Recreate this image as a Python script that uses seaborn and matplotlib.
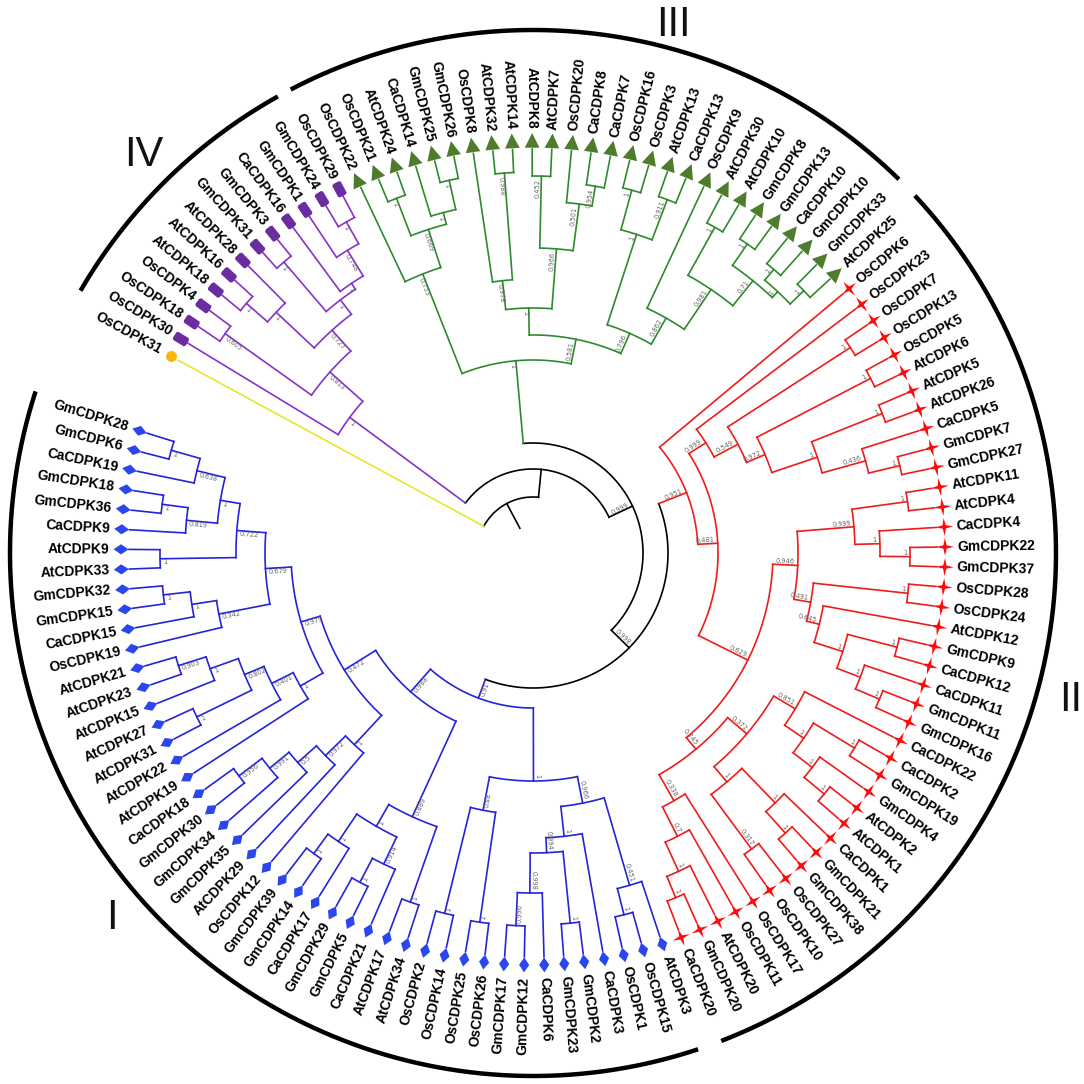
import numpy as np
import matplotlib
matplotlib.use("Agg")
import matplotlib.pyplot as plt
import seaborn as sns
import pandas as pd
from matplotlib.collections import LineCollection
from matplotlib.path import Path

# ---- leaf order, clockwise starting from the lone OsCDPK31 ----
yellow_leaves = ["OsCDPK31"]
purple_leaves = ["OsCDPK30", "OsCDPK18", "OsCDPK4", "AtCDPK18", "AtCDPK16", "AtCDPK28",
                 "GmCDPK31", "GmCDPK3", "CaCDPK16", "GmCDPK1", "GmCDPK24", "OsCDPK29"]
green_leaves = ["OsCDPK22", "OsCDPK21", "AtCDPK24", "CaCDPK14", "GmCDPK25", "GmCDPK26",
                "OsCDPK8", "AtCDPK32", "AtCDPK14", "AtCDPK8", "AtCDPK7", "OsCDPK20",
                "CaCDPK8", "CaCDPK7", "OsCDPK16", "OsCDPK3", "AtCDPK13", "CaCDPK13",
                "OsCDPK9", "AtCDPK30", "AtCDPK10", "GmCDPK8", "GmCDPK13", "CaCDPK10",
                "GmCDPK10", "GmCDPK33", "AtCDPK25"]
red_leaves = ["OsCDPK6", "OsCDPK23", "OsCDPK7", "OsCDPK13", "OsCDPK5", "AtCDPK6", "AtCDPK5",
              "AtCDPK26", "CaCDPK5", "GmCDPK7", "GmCDPK27", "AtCDPK11", "AtCDPK4", "CaCDPK4",
              "GmCDPK22", "GmCDPK37", "OsCDPK28", "OsCDPK24", "AtCDPK12", "GmCDPK9",
              "CaCDPK12", "CaCDPK11", "GmCDPK11", "GmCDPK16", "CaCDPK22", "CaCDPK2",
              "GmCDPK19", "GmCDPK4", "AtCDPK2", "AtCDPK1", "CaCDPK1", "GmCDPK21", "GmCDPK38",
              "OsCDPK27", "OsCDPK10", "OsCDPK17", "OsCDPK11", "AtCDPK20", "GmCDPK20", "CaCDPK20"]
blue_leaves = ["AtCDPK3", "OsCDPK15", "OsCDPK1", "CaCDPK3", "GmCDPK2", "GmCDPK23", "CaCDPK6",
               "GmCDPK12", "GmCDPK17", "OsCDPK26", "OsCDPK25", "OsCDPK14", "OsCDPK2",
               "AtCDPK34", "AtCDPK17", "CaCDPK21", "GmCDPK5", "GmCDPK29", "CaCDPK17",
               "GmCDPK14", "GmCDPK39", "OsCDPK12", "AtCDPK29", "GmCDPK35", "GmCDPK34",
               "GmCDPK30", "CaCDPK18", "AtCDPK19", "AtCDPK22", "AtCDPK31", "AtCDPK27",
               "AtCDPK15", "AtCDPK23", "AtCDPK21", "OsCDPK19", "CaCDPK15", "GmCDPK15",
               "GmCDPK32", "AtCDPK33", "AtCDPK9", "CaCDPK9", "GmCDPK36", "GmCDPK18",
               "CaCDPK19", "GmCDPK6", "GmCDPK28"]

# ---- topologies: internal node = (...)support:radius ----
purple_tree = ("(OsCDPK30,((OsCDPK18,OsCDPK4)0.605:378,(((AtCDPK18,AtCDPK16)1:380,AtCDPK28)1:352,"
               "((GmCDPK31,GmCDPK3)1:383,(CaCDPK16,(GmCDPK1,(GmCDPK24,OsCDPK29)1:380)0.748:355)1:325)1:318)"
               "0.727:300)0.813:272)1:228")

green_tree = ("((OsCDPK22,((OsCDPK21,AtCDPK24)1:380,(CaCDPK14,(GmCDPK25,GmCDPK26)1:382)1:352)0.669:340)0.753:300,"
              "(((OsCDPK8,(AtCDPK32,AtCDPK14)0.988:381)0.978:274,((AtCDPK8,AtCDPK7)0.452:377,"
              "(OsCDPK20,(CaCDPK8,CaCDPK7)0.954:372)0.501:352)0.966:305)1:245,"
              "(((OsCDPK16,OsCDPK3)1:376,(AtCDPK13,CaCDPK13)0.911:378)1:335,"
              "(OsCDPK9,((AtCDPK30,AtCDPK10)1:373,((GmCDPK8,GmCDPK13)1:376,((CaCDPK10,GmCDPK10)1:372,"
              "(GmCDPK33,AtCDPK25)1:377)1:358)0.71:350)0.981:318)0.862:270)0.796:240)0.581:218)1:193")

red_u2 = ("((OsCDPK7,OsCDPK13)1:378,((OsCDPK5,AtCDPK6)1:380,((AtCDPK5,AtCDPK26)1:376,"
          "(CaCDPK5,(GmCDPK7,GmCDPK27)1:377)0.436:345)1:300)0.972:252)0.549:232")
red_b1 = "((AtCDPK11,AtCDPK4)1:378,(CaCDPK4,(GmCDPK22,GmCDPK37)1:377)1:347)0.999:322"
red_b2 = ("((OsCDPK28,OsCDPK24)1:377,(AtCDPK12,((GmCDPK9,CaCDPK12)1:376,"
          "(CaCDPK11,(GmCDPK11,GmCDPK16)1:376)1:350)1:325)0.645:295)0.491:282")
red_c3 = "(CaCDPK22,((CaCDPK2,GmCDPK19)1:376,(GmCDPK4,(AtCDPK2,AtCDPK1)1:378)1:352)1:328)0.851:305"
red_d3 = "((CaCDPK1,(GmCDPK21,GmCDPK38)1:377)1:348,(OsCDPK27,OsCDPK10)0.317:368)1:300"
red_e3 = "(OsCDPK17,(OsCDPK11,(AtCDPK20,(GmCDPK20,CaCDPK20)1:373)1:350)0.7:318)0.338:285"
red_tree = ("(OsCDPK6,((OsCDPK23," + red_u2 + ")0.999:205,((" + red_b1 + "," + red_b2 + ")0.946:265,(("
            + red_c3 + "," + red_d3 + ")0.372:280," + red_e3 + ")0.745:255)0.629:240)0.481:185)0.951:165")

blue_ra = "(AtCDPK3,(OsCDPK15,OsCDPK1)1:373)0.451:346"
blue_rb = "(CaCDPK3,((GmCDPK2,GmCDPK23)1:372,(CaCDPK6,(GmCDPK12,GmCDPK17)0.996:373)0.998:340)0.994:300)1:285"
blue_rc = "((OsCDPK26,OsCDPK25)1:373,(OsCDPK14,OsCDPK2)1:371)0.88:262"
blue_l1 = ("((AtCDPK34,AtCDPK17)1:370,((CaCDPK21,(GmCDPK5,GmCDPK29)1:372)0.914:345,"
           "(CaCDPK17,(GmCDPK14,GmCDPK39)1:372)1:348)1:315)0.889:290")
blue_l2 = "(OsCDPK12,(AtCDPK29,(GmCDPK35,(GmCDPK34,(GmCDPK30,CaCDPK18)0.956:369)0.991:340)0.5:315)0.972:290)1:262"
blue_l3 = ("(AtCDPK19,(AtCDPK22,((AtCDPK31,AtCDPK27)1:374,(AtCDPK15,(AtCDPK23,AtCDPK21)0.903:372)1:343)"
           "0.802:313)0.401:292)1:268")
blue_l4 = ("((OsCDPK19,(CaCDPK15,(GmCDPK15,GmCDPK32)1:372)1:345)0.342:320,((AtCDPK33,AtCDPK9)1:373,"
           "((CaCDPK9,(GmCDPK36,GmCDPK18)1:374)0.819:348,(CaCDPK19,(GmCDPK6,GmCDPK28)1:376)0.638:346)1:317)"
           "0.722:297)0.679:268")
blue_tree = ("(((" + blue_ra + "," + blue_rb + ")0.966:255," + blue_rc + ")1:228,(" + blue_l1 + ",(" + blue_l2
             + ",(" + blue_l3 + "," + blue_l4 + ")0.979:242)0.472:222)0.988:185)0.91:155")

# backbone (black) nodes N0..N3, radius in px from the centre
backbone_support = ["", "", "0.999", "0.998"]
backbone_radius = [56, 84, 110, 135]
root_stub = [28, 56]

clade_color = {"yellow": "#e6e62e", "purple": "#8434c9", "green": "#2f8a2f",
               "red": "#ee1c1c", "blue": "#2424d8"}
marker_color = {"yellow": "#f6b60c", "purple": "#6a2d9f", "green": "#4e7b2c",
                "red": "#ff0a0a", "blue": "#2a46ec"}

group_names = ["IV", "III", "II", "I"]
group_spans = [(149.9, 119.2), (117.6, 45.6), (43.1, -68.9), (-71.6, -198.0)]
group_label_angle = [134.4, 75.1, -15.3, 220.9]
group_label_radius = [557, 546, 557, 557]

CX, CY = 533.0, 553.0
THETA0, STEP = 151.5, 2.79
R_TIP, R_MARK, R_LABEL = 404, 412, 424
R_GROUP = 523


def parse(s):
    s = s.replace(" ", "")
    pos = 0

    def node():
        nonlocal pos
        if s[pos] == "(":
            pos += 1
            kids = [node()]
            while s[pos] == ",":
                pos += 1
                kids.append(node())
            pos += 1
            start = pos
            while pos < len(s) and s[pos] not in ":,)":
                pos += 1
            sup = s[start:pos]
            r = None
            if pos < len(s) and s[pos] == ":":
                pos += 1
                start = pos
                while pos < len(s) and s[pos] not in ",)":
                    pos += 1
                r = float(s[start:pos])
            return {"kids": kids, "sup": sup, "r": r}
        start = pos
        while pos < len(s) and s[pos] not in ",)":
            pos += 1
        return {"name": s[start:pos]}

    return node()


def paint(n, clade):
    n["clade"] = clade
    for k in n.get("kids", []):
        paint(k, clade)


trees = {"yellow": {"name": "OsCDPK31"}, "purple": parse(purple_tree), "green": parse(green_tree),
         "red": parse(red_tree), "blue": parse(blue_tree)}
for c, t in trees.items():
    paint(t, c)

n3 = {"kids": [trees["red"], trees["blue"]], "sup": backbone_support[3], "r": backbone_radius[3], "clade": None}
n2 = {"kids": [trees["green"], n3], "sup": backbone_support[2], "r": backbone_radius[2], "clade": None}
n1 = {"kids": [trees["purple"], n2], "sup": backbone_support[1], "r": backbone_radius[1], "clade": None}
n0 = {"kids": [trees["yellow"], n1], "sup": backbone_support[0], "r": backbone_radius[0], "clade": None}

leaves = []


def layout(n):
    if "name" in n:
        n["a"] = THETA0 - STEP * len(leaves)
        n["r"] = R_TIP
        leaves.append(n)
    else:
        for k in n["kids"]:
            layout(k)
        n["a"] = np.mean([k["a"] for k in n["kids"]])


layout(n0)
order = yellow_leaves + purple_leaves + green_leaves + red_leaves + blue_leaves
assert [l["name"] for l in leaves] == order


def xy(r, a):
    t = np.deg2rad(a)
    return CX + r * np.cos(t), CY - r * np.sin(t)


def arc(r, a1, a2, n=None):
    n = n or max(6, int(abs(a2 - a1) / 0.4))
    aa = np.linspace(a1, a2, n)
    return np.column_stack(xy(r, aa))


segs = {}
supports = []


def collect(n):
    col = clade_color[n["clade"]] if n["clade"] else "black"
    if "kids" not in n:
        return
    angs = [k["a"] for k in n["kids"]]
    segs.setdefault(col, []).append(arc(n["r"], min(angs), max(angs)))
    for k in n["kids"]:
        kcol = clade_color[k["clade"]] if k["clade"] else "black"
        segs.setdefault(kcol, []).append(np.array([xy(n["r"], k["a"]), xy(k["r"], k["a"])]))
        if k.get("sup"):
            supports.append((k["sup"], k["r"], k["a"]))
        collect(k)


collect(n0)
segs["black"].append(np.array([xy(root_stub[0], n0["a"]), xy(root_stub[1], n0["a"])]))

sns.set_theme(style="white")
fig = plt.figure(figsize=(10.84, 10.84), dpi=100)
ax = fig.add_axes([0, 0, 1, 1])
ax.set_xlim(0, 1084)
ax.set_ylim(1084, 0)
ax.axis("off")

for col, lines in segs.items():
    ax.add_collection(LineCollection(lines, colors=col, linewidths=1.2, capstyle="projecting"))


def norm(a):
    return (a + 180) % 360 - 180


def radial_text(r, a, s, outward=True, **kw):
    a = norm(a)
    x, y = xy(r, a)
    if -90 <= a <= 90:
        rot, ha = a, ("left" if outward else "right")
    else:
        rot, ha = a + 180 if a < 0 else a - 180, ("right" if outward else "left")
    ax.text(x, y, s, rotation=rot, rotation_mode="anchor", ha=ha, **kw)


for sup, r, a in supports:
    radial_text(r - 3, a + 180 / np.pi * 3.6 / r, sup, outward=False, va="center",
                fontsize=4.8, color="#666666", family="DejaVu Sans")

# leaf markers
base = {
    "green": np.array([[0.5, 0], [-0.42, 0.46], [-0.42, -0.46]]),
    "blue": np.array([[0.5, 0], [0, 0.34], [-0.5, 0], [0, -0.34]]),
    "red": np.array([[0.5, 0], [0.09, 0.09], [0, 0.5], [-0.09, 0.09], [-0.5, 0],
                     [-0.09, -0.09], [0, -0.5], [0.09, -0.09]]),
    "purple": np.array([[0.5, 0.2], [0.42, 0.32], [-0.42, 0.32], [-0.5, 0.2], [-0.5, -0.2],
                        [-0.42, -0.32], [0.42, -0.32], [0.5, -0.2]]),
}
msize = {"yellow": 11, "purple": 15, "green": 16, "red": 18, "blue": 15}

leaf_df = pd.DataFrame({
    "name": [l["name"] for l in leaves],
    "clade": [l["clade"] for l in leaves],
    "angle": [l["a"] for l in leaves],
})
leaf_df["x"], leaf_df["y"] = xy(R_MARK, leaf_df["angle"].values)

for clade, sub in leaf_df.groupby("clade", sort=False):
    sns.scatterplot(data=sub, x="x", y="y", marker="o", color=marker_color[clade],
                    s=(msize[clade] * 0.72) ** 2, linewidth=0, ax=ax, legend=False, zorder=5)
    if clade in base:
        coll = ax.collections[-1]
        paths = []
        for a in sub["angle"].values:
            t = np.deg2rad(a)
            rot = np.array([[np.cos(t), -np.sin(t)], [np.sin(t), np.cos(t)]])
            v = base[clade] @ rot.T
            paths.append(Path(np.vstack([v, v[:1]]), closed=True))
        coll.set_paths(paths)

for _, row in leaf_df.iterrows():
    radial_text(R_LABEL, row["angle"], row["name"], outward=True, va="center",
                fontsize=10, fontweight="bold", color="black", family="Liberation Sans")

# group arcs and numerals
for (a1, a2), name, la, lr in zip(group_spans, group_names, group_label_angle, group_label_radius):
    pts = arc(R_GROUP, a1, a2)
    ax.plot(pts[:, 0], pts[:, 1], color="black", lw=3.2, solid_capstyle="butt")
    x, y = xy(lr, la)
    ax.text(x, y, name, ha="center", va="center", fontsize=30, color="#111111",
            family="Liberation Sans")

fig.savefig("out.png", dpi=100)
